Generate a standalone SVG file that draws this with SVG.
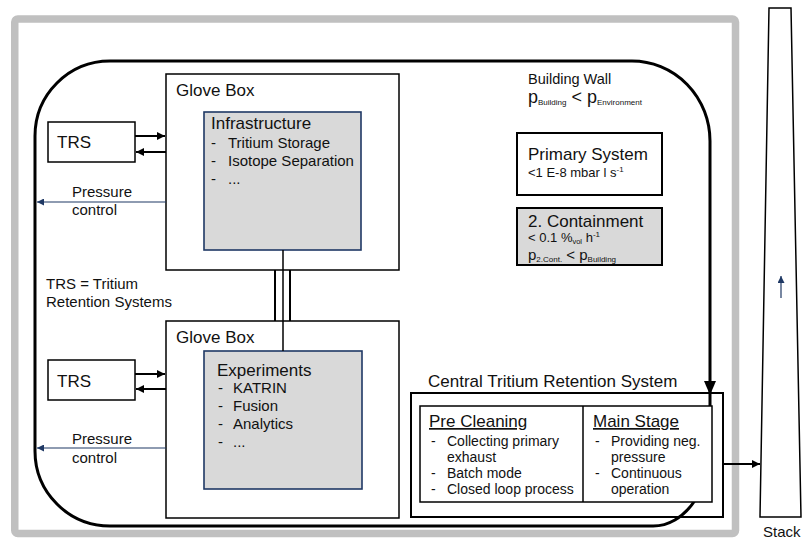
<svg xmlns="http://www.w3.org/2000/svg" width="806" height="540" viewBox="0 0 806 540">
  <style>
    text { font-family: "Liberation Sans", Arial, sans-serif; fill: #111; }
    .t17 { font-size: 17px; }
    .t15 { font-size: 15px; }
    .t14 { font-size: 14px; }
    .t13 { font-size: 13px; }
    .box { fill: none; stroke: #000; stroke-width: 1.5; }
    .inner { fill: #d9d9d9; stroke: #1f3864; stroke-width: 1.6; }
    .arrow { fill: none; stroke: #000; stroke-width: 2; }
    .press { fill: none; stroke: #1f3864; stroke-width: 1.2; }
  </style>
  <defs>
    <marker id="ah" viewBox="0 0 10 10" refX="10" refY="5" markerWidth="8" markerHeight="8" markerUnits="userSpaceOnUse" orient="auto">
      <path d="M0,0 L10,5 L0,10 z" fill="#000"/>
    </marker>
    <marker id="ahb" viewBox="0 0 10 10" refX="10" refY="5" markerWidth="7" markerHeight="7" markerUnits="userSpaceOnUse" orient="auto">
      <path d="M0,0 L10,5 L0,10 z" fill="#1f3864"/>
    </marker>
  </defs>

  <rect width="806" height="540" fill="#fff"/>

  <!-- outer gray frame -->
  <rect id="frame" x="14.75" y="19" width="720.75" height="514.5" rx="3" fill="none" stroke="#c0c0c0" stroke-width="7.5"/>

  <!-- building wall -->
  <g id="building-wall">
    <path d="M710,440 A57,80 0 0 1 653,526 L110,526 A75,75 0 0 1 35,451 L35,136 A75,75 0 0 1 110,61 L632,61 A78,80 0 0 1 710,141 L710,406" fill="none" stroke="#000" stroke-width="3"/>
    <polygon points="704,381 716,381 710,395" fill="#000"/>
    <text x="528" y="84" style="font-size:14.5px">Building Wall</text>
    <text x="528" y="103" style="font-size:18px">p<tspan style="font-size:8px" dy="2">Building</tspan><tspan dy="-2"> &lt; p</tspan><tspan style="font-size:8px" dy="2">Environment</tspan></text>
  </g>

  <!-- glove box 1 -->
  <g id="glovebox1">
    <rect class="box" x="166" y="74" width="233" height="196"/>
    <text class="t17" x="176" y="96">Glove Box</text>
  </g>
  <g id="infrastructure">
    <rect class="inner" x="204" y="112" width="157" height="138"/>
    <text class="t17" x="211" y="129">Infrastructure</text>
    <text class="t15" x="211" y="148">-</text><text class="t15" x="228" y="148">Tritium Storage</text>
    <text class="t15" x="211" y="166">-</text><text class="t15" x="228" y="166">Isotope Separation</text>
    <text class="t15" x="211" y="184">-</text><text class="t15" x="228" y="184">...</text>
  </g>

  <!-- glove box 2 -->
  <g id="glovebox2">
    <rect class="box" x="166" y="321" width="233" height="197"/>
    <text class="t17" x="176" y="343">Glove Box</text>
  </g>
  <g id="experiments">
    <rect class="inner" x="204" y="351" width="158" height="138"/>
    <text class="t17" x="217" y="376">Experiments</text>
    <text class="t15" x="218" y="393">-</text><text class="t15" x="233" y="393">KATRIN</text>
    <text class="t15" x="218" y="411">-</text><text class="t15" x="233" y="411">Fusion</text>
    <text class="t15" x="218" y="429">-</text><text class="t15" x="233" y="429">Analytics</text>
    <text class="t15" x="218" y="447">-</text><text class="t15" x="233" y="447">...</text>
  </g>

  <!-- TRS boxes -->
  <g id="trs1">
    <rect class="box" x="48" y="122" width="87" height="40"/>
    <text class="t17" x="57" y="148">TRS</text>
  </g>
  <g id="trs2">
    <rect class="box" x="48" y="360" width="87" height="40"/>
    <text class="t17" x="57" y="387">TRS</text>
  </g>

  <g id="trs-legend">
    <text class="t15" x="46" y="289">TRS = Tritium</text>
    <text class="t15" x="46" y="307">Retention Systems</text>
  </g>

  <!-- primary system -->
  <g id="primary-system">
    <rect x="517" y="133" width="145" height="62" fill="#fff" stroke="#000" stroke-width="2"/>
    <text class="t17" x="528" y="160">Primary System</text>
    <text class="t13" x="528" y="177">&lt;1 E-8 mbar l s<tspan style="font-size:8px" dy="-5">-1</tspan></text>
  </g>

  <!-- containment -->
  <g id="containment">
    <rect x="517" y="208" width="145" height="57" fill="#d9d9d9" stroke="#000" stroke-width="2"/>
    <text class="t17" x="528" y="227">2. Containment</text>
    <text class="t13" x="528" y="242">&lt; 0.1 %<tspan style="font-size:7.5px" dy="1.5">vol</tspan><tspan dy="-1.5"> h</tspan><tspan style="font-size:8px" dy="-5">-1</tspan></text>
    <text x="528" y="259.5" style="font-size:15px">p<tspan style="font-size:8px" dy="2">2.Cont.</tspan><tspan dy="-2"> &lt; p</tspan><tspan style="font-size:8px" dy="2">Building</tspan></text>
  </g>

  <!-- central tritium retention system -->
  <g id="ctrs">
    <text class="t17" x="428" y="387">Central Tritium Retention System</text>
    <rect x="411" y="393" width="312" height="124" fill="none" stroke="#000" stroke-width="2"/>
    <rect x="420" y="406" width="292" height="96" fill="#fff" stroke="#000" stroke-width="1.5"/>
    <line x1="583" y1="406" x2="583" y2="502" stroke="#000" stroke-width="1.5"/>
    <text class="t17" x="429" y="427" text-decoration="underline">Pre Cleaning</text>
    <text class="t14" x="431" y="446">-</text><text class="t14" x="447" y="446">Collecting primary</text>
    <text class="t14" x="447" y="462">exhaust</text>
    <text class="t14" x="431" y="478">-</text><text class="t14" x="447" y="478">Batch mode</text>
    <text class="t14" x="431" y="494">-</text><text class="t14" x="447" y="494">Closed loop process</text>
    <text class="t17" x="593" y="427" text-decoration="underline">Main Stage</text>
    <text class="t14" x="595" y="446">-</text><text class="t14" x="611" y="446">Providing neg.</text>
    <text class="t14" x="611" y="462">pressure</text>
    <text class="t14" x="595" y="478">-</text><text class="t14" x="611" y="478">Continuous</text>
    <text class="t14" x="611" y="494">operation</text>
  </g>

  <!-- stack -->
  <g id="stack">
    <polygon points="769,8 791,8 801,517 760,517" fill="#fff" stroke="#000" stroke-width="1.5"/>
    <text class="t15" x="763" y="537">Stack</text>
  </g>

  <!-- connectors -->
  <g id="connectors">
    <line class="arrow" x1="135" y1="136" x2="165" y2="136" marker-end="url(#ah)"/>
    <line class="arrow" x1="166" y1="152" x2="136" y2="152" marker-end="url(#ah)"/>
    <line class="arrow" x1="135" y1="374" x2="165" y2="374" marker-end="url(#ah)"/>
    <line class="arrow" x1="166" y1="389" x2="136" y2="389" marker-end="url(#ah)"/>

    <line class="press" x1="166" y1="202" x2="37" y2="202" marker-end="url(#ahb)"/>
    <text class="t15" x="72" y="197">Pressure</text>
    <text class="t15" x="72" y="215">control</text>
    <line class="press" x1="166" y1="448" x2="37" y2="448" marker-end="url(#ahb)"/>
    <text class="t15" x="72" y="444">Pressure</text>
    <text class="t15" x="72" y="463">control</text>

    <line x1="275" y1="270" x2="275" y2="321" stroke="#000" stroke-width="2"/>
    <line x1="290" y1="270" x2="290" y2="321" stroke="#000" stroke-width="2"/>
    <line x1="283" y1="250" x2="283" y2="351" stroke="#000" stroke-width="1.5"/>

    <line class="arrow" x1="723" y1="464" x2="760" y2="464" marker-end="url(#ah)"/>
    <line class="press" x1="781" y1="298" x2="781" y2="276" stroke-width="1.5" marker-end="url(#ahb)"/>
  </g>
</svg>
